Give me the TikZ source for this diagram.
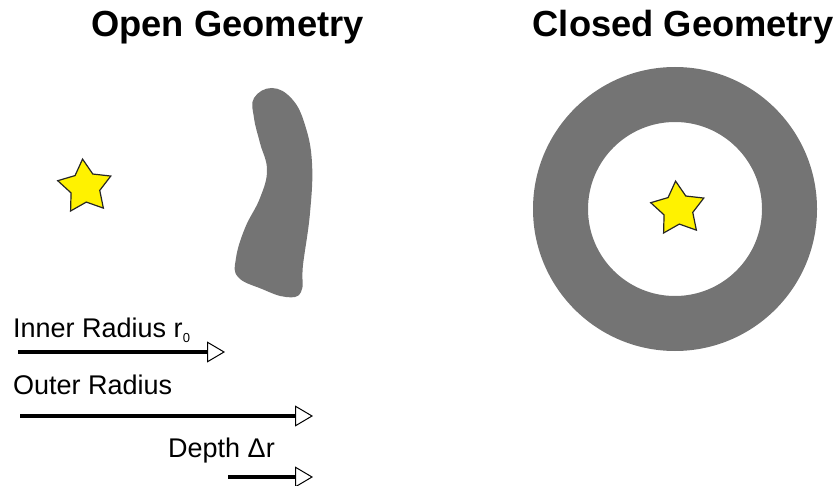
\documentclass[tikz,border=0pt]{standalone}
\usepackage{fontspec}
\setmainfont{Liberation Sans}
\usetikzlibrary{arrows.meta,shapes.geometric}
\definecolor{shapegray}{RGB}{116,116,116}
\tikzset{
  title/.style={anchor=base,font=\fontsize{36.3}{40}\selectfont\bfseries,inner sep=0},
  lbl/.style={anchor=base west,font=\fontsize{27}{30}\selectfont,inner sep=0},
  starnode/.style={star,star points=5,star point ratio=1.85,minimum size=56pt,inner sep=0,
    fill=yellow,draw=black!85,line width=1.2pt,rotate=5},
  dimarrow/.style={line width=3.5pt,-{Triangle[open,fill=white,length=18pt,width=21pt,line width=1pt]}}
}
\begin{document}
\begin{tikzpicture}[x=1pt,y=-1pt]
\useasboundingbox (0,0) rectangle (837,486);
% titles
\node[title] (t1) at (227.5,37) {Open Geometry};
\node[title] (t2) at (683,37) {Closed Geometry};
% open geometry
\node[starnode] (s1) at (85,187) {};
\fill[shapegray] plot[smooth cycle,tension=0.7] coordinates {
 (254,98) (272,88) (292,99) (305,125) (312,163) (310,213) (303,265) (301,292)
 (286,297) (262,289) (238,277) (236,258) (245,228) (260,198) (267,170) (260,143) (254,118)};
% closed geometry
\coordinate (rc) at (675,209);
\fill[shapegray,even odd rule] (rc) circle[radius=142] (rc) circle[radius=87];
\node[starnode] (s2) at (678,209) {};
% labels and arrows
\node[lbl] (l1) at (13,337) {Inner Radius r\raisebox{-5pt}{\fontsize{13}{13}\selectfont 0}};
\node[lbl] (l2) at (13,394) {Outer Radius};
\node[lbl] (l3) at (168,457) {Depth Δr};
\coordinate (a1s) at (18,352); \coordinate (a1e) at (225,352);
\coordinate (a2s) at (20,416); \coordinate (a2e) at (313,416);
\coordinate (a3s) at (228,477); \coordinate (a3e) at (313,477);
\draw[dimarrow] (a1s) -- (a1e);
\draw[dimarrow] (a2s) -- (a2e);
\draw[dimarrow] (a3s) -- (a3e);
\end{tikzpicture}
\end{document}
